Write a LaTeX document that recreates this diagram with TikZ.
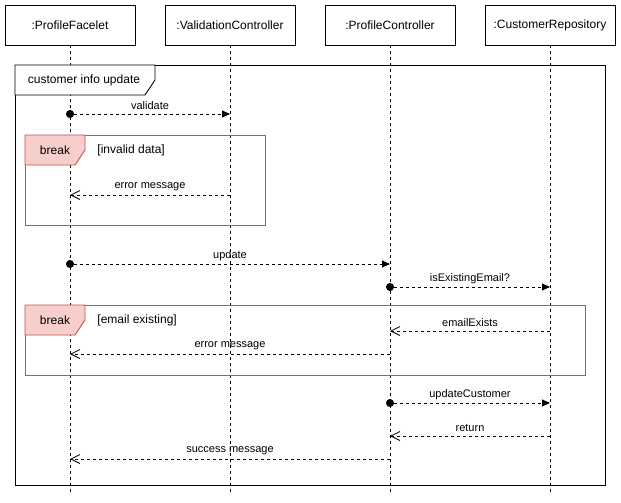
\documentclass[tikz,border=0pt]{standalone}
\usepackage{fontspec}
\setmainfont{Liberation Sans}
\usetikzlibrary{arrows.meta}
\definecolor{brkfill}{HTML}{F8CECC}
\definecolor{brkline}{HTML}{B85450}
\begin{document}
\begin{tikzpicture}[x=1pt,y=-1pt,line width=0.9pt,
  head/.style={draw, fill=white, minimum width=130pt, minimum height=40pt, inner sep=0pt,
    font=\fontsize{12}{14}\selectfont},
  lifeline/.style={dash pattern=on 3pt off 3pt},
  sync/.style={dash pattern=on 3pt off 3pt,
    {Circle[length=8pt]}-{Triangle[length=8pt,width=7pt]}, shorten <=-4pt},
  reply/.style={dash pattern=on 3pt off 3pt,
    -{Straight Barb[length=9pt,width=9pt,line width=0.8pt]}},
  msglbl/.style={font=\fontsize{11}{13}\selectfont, yshift=8.5pt, inner sep=0pt},
  framelbl/.style={font=\fontsize{12}{14}\selectfont, inner sep=0pt},
  brkframe/.style={draw=brkline},
  brktag/.style={draw=brkline, fill=brkfill}
]
\useasboundingbox (0,0) rectangle (621,503);

% participants
\node[head] (pf) at (70,25)  {:ProfileFacelet};
\node[head] (vc) at (230,25) {:ValidationController};
\node[head] (pc) at (390,25) {:ProfileController};
\node[head] (cr) at (550,25) {:CustomerRepository};

% lifelines
\coordinate (bot) at (0,493);
\foreach \p in {pf,vc,pc,cr}
  \draw[lifeline] (\p.south) -- (\p |- bot);

% outer frame
\draw (15,65) rectangle (605,485);
\draw[fill=white] (15,65) -- (155,65) -- (155,80) -- (145,95) -- (15,95) -- cycle;
\node[framelbl] (fr) at (84,80) {customer info update};

% first break fragment
\draw[brkframe] (25,135) rectangle (265,225);
\draw[brktag] (25,135) -- (85,135) -- (85,150) -- (75,165) -- (25,165) -- cycle;
\node[framelbl] (b1) at (55,150) {break};
\node[framelbl, anchor=west] (g1) at (97,150) {[invalid data]};

% second break fragment
\draw[brkframe] (25,305) rectangle (585,375);
\draw[brktag] (25,305) -- (85,305) -- (85,320) -- (75,335) -- (25,335) -- cycle;
\node[framelbl] (b2) at (55,320) {break};
\node[framelbl, anchor=west] (g2) at (97,320) {[email existing]};

% message rows
\coordinate (m1) at (0,114);
\coordinate (m2) at (0,195);
\coordinate (m3) at (0,264);
\coordinate (m4) at (0,287);
\coordinate (m5) at (0,331);
\coordinate (m6) at (0,354);
\coordinate (m7) at (0,403);
\coordinate (m8) at (0,436);
\coordinate (m9) at (0,459);

\draw[sync]  (pf |- m1) -- (vc |- m1) node[midway, msglbl] {validate};
\draw[reply] (vc |- m2) -- (pf |- m2) node[midway, msglbl] {error message};
\draw[sync]  (pf |- m3) -- (pc |- m3) node[midway, msglbl] {update};
\draw[sync]  (pc |- m4) -- (cr |- m4) node[midway, msglbl] {isExistingEmail?};
\draw[reply] (cr |- m5) -- (pc |- m5) node[midway, msglbl] {emailExists};
\draw[reply] (pc |- m6) -- (pf |- m6) node[midway, msglbl] {error message};
\draw[sync]  (pc |- m7) -- (cr |- m7) node[midway, msglbl] {updateCustomer};
\draw[reply] (cr |- m8) -- (pc |- m8) node[midway, msglbl] {return};
\draw[reply] (pc |- m9) -- (pf |- m9) node[midway, msglbl] {success message};
\end{tikzpicture}
\end{document}
